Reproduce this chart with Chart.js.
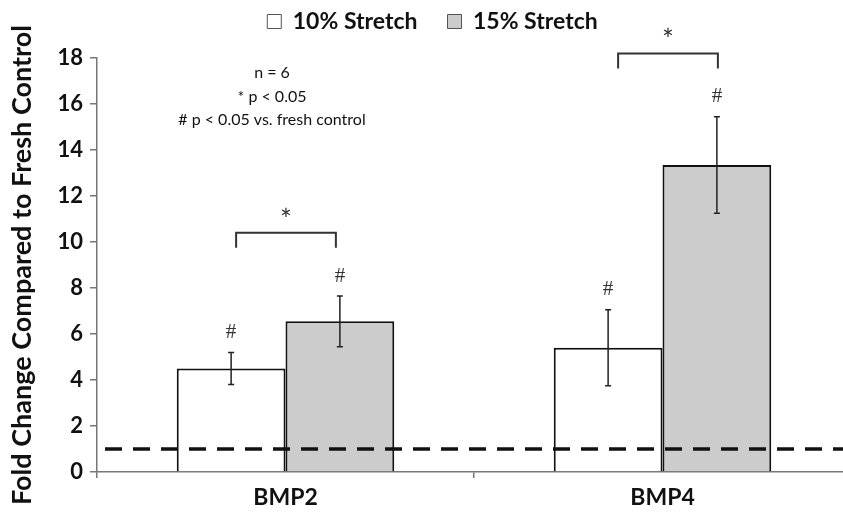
<!DOCTYPE html>
<html>
<head>
<meta charset="utf-8">
<script src="https://cdn.jsdelivr.net/npm/chart.js@4.4.0/dist/chart.umd.min.js"></script>
<style>
html,body{margin:0;padding:0;background:#fff;}
#wrap{width:843px;height:517px;position:relative;}
</style>
</head>
<body>
<div id="wrap"><canvas id="c"></canvas></div>
<script>
// ---- data ----
const categories = ['BMP2', 'BMP4'];
const seriesNames = ['10% Stretch', '15% Stretch'];
const stretch10 = [4.5, 5.4];
const stretch15 = [6.55, 13.35];
const err10 = [0.7, 1.65];
const err15 = [1.1, 2.1];
const yTickValues = [0, 2, 4, 6, 8, 10, 12, 14, 16, 18];
const controlLevel = 1;
const bracketLevels = [10.4, 18.2];   // significance bracket heights (data units)
const notes = ['n = 6', '* p < 0.05', '# p < 0.05 vs. fresh control'];

const FONT = 'Lato, "Liberation Sans", sans-serif';
const errors = [err10, err15];

const layoutTweaks = {
  id: 'layoutTweaks',
  beforeLayout(chart) {
    const l = chart.legend;
    if (l && !l._placed) {
      const f = l.fit.bind(l);
      l.fit = function () { f(); this.height = 58; };
      l._placed = true;
    }
  },
  afterLayout(chart) {
    const l = chart.legend;
    if (l) { l.top -= 20; l.bottom -= 20; l.left += 11; l.right += 11; }
    const x = chart.scales.x;
    // plot runs slightly past the right edge of the picture
    x.right += 8; x.width += 8; x.configure();
  }
};

const annotPlugin = {
  id: 'annot',
  afterDatasetsDraw(chart) {
    const ctx = chart.ctx;
    const ys = chart.scales.y;
    const ca = chart.chartArea;
    ctx.save();
    // dashed control line
    ctx.strokeStyle = '#111';
    ctx.lineWidth = 3.5;
    ctx.setLineDash([17, 11]);
    const yc = ys.getPixelForValue(controlLevel);
    ctx.beginPath();
    ctx.moveTo(ca.left + 8, yc);
    ctx.lineTo(ca.right, yc);
    ctx.stroke();
    ctx.setLineDash([]);

    // error bars and # markers
    const centers = [];
    chart.data.datasets.forEach((ds, di) => {
      const meta = chart.getDatasetMeta(di);
      meta.data.forEach((bar, i) => {
        const v = ds.data[i];
        const e = errors[di][i];
        const x = bar.x;
        const yt = ys.getPixelForValue(v + e);
        const yb = ys.getPixelForValue(v - e);
        ctx.strokeStyle = '#222';
        ctx.lineWidth = 1.5;
        ctx.beginPath();
        ctx.moveTo(x, yt); ctx.lineTo(x, yb);
        ctx.moveTo(x - 3, yt); ctx.lineTo(x + 3, yt);
        ctx.moveTo(x - 3, yb); ctx.lineTo(x + 3, yb);
        ctx.stroke();
        ctx.fillStyle = '#333';
        ctx.font = '21px "Liberation Serif", serif';
        ctx.textAlign = 'center';
        ctx.textBaseline = 'middle';
        ctx.fillText('#', x, yt - 20);
        centers[i] = centers[i] || [];
        centers[i][di] = x;
      });
    });

    // significance brackets
    const inset = [[5, 4], [10, -1]];
    centers.forEach((pair, i) => {
      const yb = ys.getPixelForValue(bracketLevels[i]);
      const x1 = pair[0] + inset[i][0], x2 = pair[1] - inset[i][1];
      ctx.strokeStyle = '#333';
      ctx.lineWidth = 2;
      ctx.beginPath();
      ctx.moveTo(x1, yb + 15); ctx.lineTo(x1, yb); ctx.lineTo(x2, yb); ctx.lineTo(x2, yb + 15);
      ctx.stroke();
      ctx.fillStyle = '#333';
      ctx.font = '28px ' + FONT;
      ctx.textAlign = 'center';
      ctx.textBaseline = 'middle';
      ctx.fillText('*', (x1 + x2) / 2, yb - 12);
    });

    // notes
    ctx.fillStyle = '#111';
    ctx.font = '16px ' + FONT;
    ctx.textAlign = 'center';
    ctx.textBaseline = 'middle';
    notes.forEach((t, k) => ctx.fillText(t, 272, 73 + k * 23.5));
    ctx.restore();
  }
};

new Chart(document.getElementById('c'), {
  type: 'bar',
  data: {
    labels: categories,
    datasets: [
      { label: seriesNames[0], data: stretch10, backgroundColor: '#ffffff', borderColor: '#111', borderWidth: 2, borderSkipped: 'bottom' },
      { label: seriesNames[1], data: stretch15, backgroundColor: '#cccccc', borderColor: '#111', borderWidth: 2, borderSkipped: 'bottom' }
    ]
  },
  options: {
    responsive: true,
    maintainAspectRatio: false,
    animation: false,
    layout: { padding: { top: 0, right: 0, bottom: 0, left: 0 } },
    datasets: { bar: { barPercentage: 1.0, categoryPercentage: 0.577 } },
    plugins: {
      tooltip: { enabled: false },
      legend: {
        display: true,
        position: 'top',
        labels: {
          font: { family: FONT, size: 23, weight: 'bold' },
          color: '#111',
          boxWidth: 14,
          boxHeight: 14,
          padding: 30,
          generateLabels(chart) {
            return chart.data.datasets.map((ds, i) => ({
              text: ds.label, fillStyle: ds.backgroundColor, strokeStyle: '#555',
              lineWidth: 1, hidden: false, datasetIndex: i, fontColor: '#111'
            }));
          }
        }
      }
    },
    scales: {
      x: {
        afterFit(s) { s.height = 45; },
        border: { color: '#777', width: 1.5 },
        grid: { display: true, drawOnChartArea: false, tickLength: 6, color: '#777', lineWidth: 1.5 },
        ticks: { font: { family: FONT, size: 23, weight: 'bold' }, color: '#111', padding: 6 }
      },
      y: {
        min: 0, max: 18,
        afterFit(s) { s.width = 97; },
        afterBuildTicks(s) { s.ticks = yTickValues.map(v => ({ value: v })); },
        border: { color: '#777', width: 1.5 },
        grid: { display: true, drawOnChartArea: false, tickLength: 7, color: '#777', lineWidth: 1.5 },
        ticks: { font: { family: FONT, size: 22, weight: 'bold' }, color: '#111', padding: 7 },
        title: {
          display: true,
          text: 'Fold Change Compared to Fresh Control',
          font: { family: FONT, size: 27, weight: 'bold' },
          color: '#111',
          padding: { top: 6, bottom: 0 }
        }
      }
    }
  },
  plugins: [layoutTweaks, annotPlugin]
});
</script>
</body>
</html>
